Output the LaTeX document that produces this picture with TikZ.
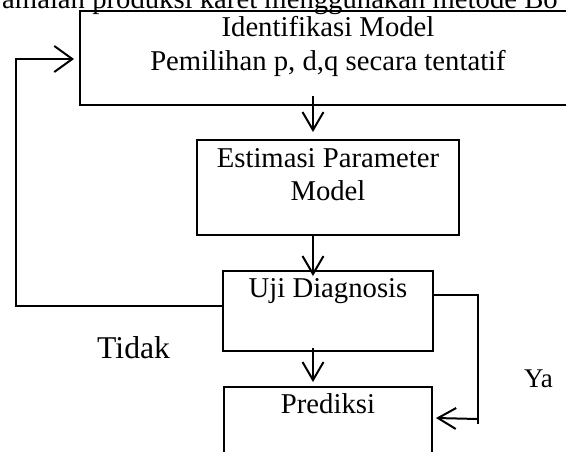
\documentclass[tikz,border=0pt]{standalone}
\usepackage{fontspec}
\setmainfont{Liberation Serif}
\usetikzlibrary{arrows.meta}
\begin{document}
\begin{tikzpicture}[x=1pt,y=-1pt,
  box/.style={draw, line width=2pt, rectangle, inner sep=0pt},
  lbl/.style={inner sep=0pt, anchor=base, font=\fontsize{28.7}{33}\selectfont},
  ln/.style={line width=2pt},
  arr/.style={line width=2pt, -{Straight Barb[length=18pt,width=21pt,line width=2pt]}},
  arrL/.style={line width=2pt, -{Straight Barb[length=18pt,width=26pt,line width=2pt]}}]
\useasboundingbox (0,0) rectangle (566,451);
\clip (0,0) rectangle (566,451);
% partial heading at top
\node[inner sep=0pt, anchor=base west, font=\fontsize{28.7}{33}\selectfont] (head) at (2,8) {amalan produksi karet menggunakan metode Bo};
% boxes
\node[box, minimum width=496pt, minimum height=94pt] (b1) at (328,57.5) {};
\node[box, minimum width=262pt, minimum height=95pt] (b2) at (328,187.5) {};
\node[box, minimum width=210pt, minimum height=80pt] (b3) at (328,311) {};
\node[box, minimum width=208pt, minimum height=84pt] (b4) at (328,429) {};
% texts
\node[lbl] (t1a) at (328,36) {Identifikasi Model};
\node[lbl] (t1b) at (328,70) {Pemilihan p, d,q secara tentatif};
\node[lbl] (t2a) at (328,167) {Estimasi Parameter};
\node[lbl] (t2b) at (328,200) {Model};
\node[lbl] (t3) at (328,297) {Uji Diagnosis};
\node[lbl] (t4) at (328,413) {Prediksi};
\node[inner sep=0pt, anchor=base west, font=\fontsize{31.7}{36}\selectfont] (tidak) at (97,358) {Tidak};
\node[inner sep=0pt, anchor=base west, font=\fontsize{27}{31}\selectfont] (ya) at (524,387) {Ya};
% connectors
\draw[arr] ([xshift=-15pt,yshift=10pt]b1.south) -- ([xshift=-15pt,yshift=7pt]b2.north);
\draw[arr] ([xshift=-15pt,yshift=2pt]b2.south) -- ([xshift=-15pt,yshift=-6pt]b3.north);
\draw[arr] ([xshift=-15pt,yshift=4pt]b3.south) -- ([xshift=-15pt,yshift=4pt]b4.north);
\coordinate (lc1) at (16,306);
\coordinate (lc2) at (16,59);
\draw[arrL] ([yshift=5pt]b3.west) -- (lc1) -- (lc2) -- ([xshift=-5pt,yshift=-1.5pt]b1.west);
\coordinate (rc1) at (478,295);
\coordinate (rc2) at (478,424);
\coordinate (rc3) at (478,419);
\draw[ln] ([xshift=-2pt,yshift=16pt]b3.east) -- (rc1) -- (rc2);
\draw[arr] (rc3) -- ([xshift=3pt,yshift=-32pt]b4.north east);
\end{tikzpicture}
\end{document}
